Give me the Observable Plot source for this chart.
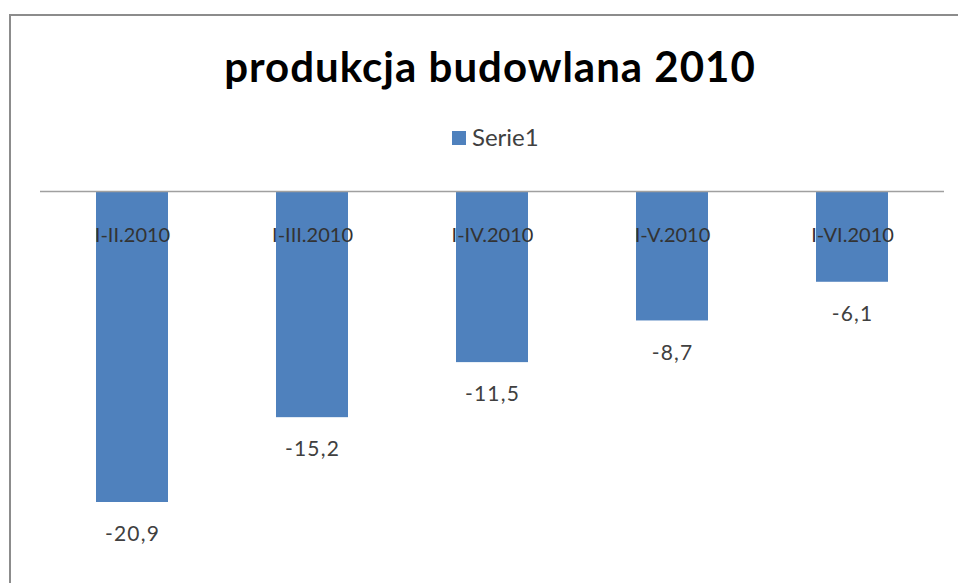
<!DOCTYPE html>
<html>
<head>
<meta charset="utf-8">
<script src="https://cdn.jsdelivr.net/npm/d3@7"></script>
<script src="https://cdn.jsdelivr.net/npm/@observablehq/plot@0.6"></script>
<style>
  html, body { margin: 0; padding: 0; background: #fff; overflow: hidden; }
  #wrap { position: relative; width: 958px; height: 583px; font-family: Lato, "Open Sans", sans-serif; }
  #frame { position: absolute; left: 9px; top: 14px; width: 1000px; height: 1000px; border: 2px solid #8c8c8c; box-sizing: border-box; pointer-events: none; }
  #title { position: absolute; left: 0; top: 0; width: 980px; height: 108px; text-align: center; font-weight: bold; font-size: 42px; line-height: 42px; letter-spacing: 1px; color: #000; padding-top: 45px; box-sizing: border-box; }
  #legend { position: absolute; left: 0; top: 108px; width: 958px; height: 50px; }
  #legend .sw { position: absolute; left: 452px; top: 23px; width: 14px; height: 14px; background: #4f81bd; }
  #legend .lb { position: absolute; left: 472px; top: 17px; font-size: 24px; line-height: 24px; color: #404040; }
  #chart { position: absolute; left: 0; top: 158px; }
  .vlab text { letter-spacing: 1.2px; }
</style>
</head>
<body>
<div id="wrap">
  <div id="title">produkcja budowlana 2010</div>
  <div id="legend"><div class="sw"></div><div class="lb">Serie1</div></div>
  <div id="chart"></div>
  <div id="frame"></div>
</div>
<script>
const categories = ["I-II.2010", "I-III.2010", "I-IV.2010", "I-V.2010", "I-VI.2010"];
const values = [-20.9, -15.2, -11.5, -8.7, -6.1];
const valueLabels = ["-20,9", "-15,2", "-11,5", "-8,7", "-6,1"];
const seriesName = "Serie1";

const data = categories.map((c, i) => ({cat: c, value: values[i], label: valueLabels[i]}));

const chart = Plot.plot({
  width: 958,
  height: 425,
  marginLeft: 40,
  marginRight: 14,
  marginTop: 33,
  marginBottom: 20,
  style: { fontFamily: "Lato, 'Open Sans', sans-serif", background: "transparent" },
  x: { domain: categories, axis: null, paddingInner: 0.6, paddingOuter: 0.3 },
  y: { domain: [-25, 0], axis: null },
  marks: [
    Plot.barY(data, { x: "cat", y: "value", fill: "#4f81bd" }),
    Plot.ruleY([0], { stroke: "#a0a0a0", strokeWidth: 1.5 }),
    Plot.text(data, { x: "cat", y: 0, text: "cat", dy: 44, fontSize: 20, fill: "#333333", lineAnchor: "middle" }),
    Plot.text(data, { x: "cat", y: "value", text: "label", dy: 32, fontSize: 21, fill: "#404040", lineAnchor: "middle", className: "vlab" })
  ]
});
document.getElementById("chart").appendChild(chart);
</script>
</body>
</html>
